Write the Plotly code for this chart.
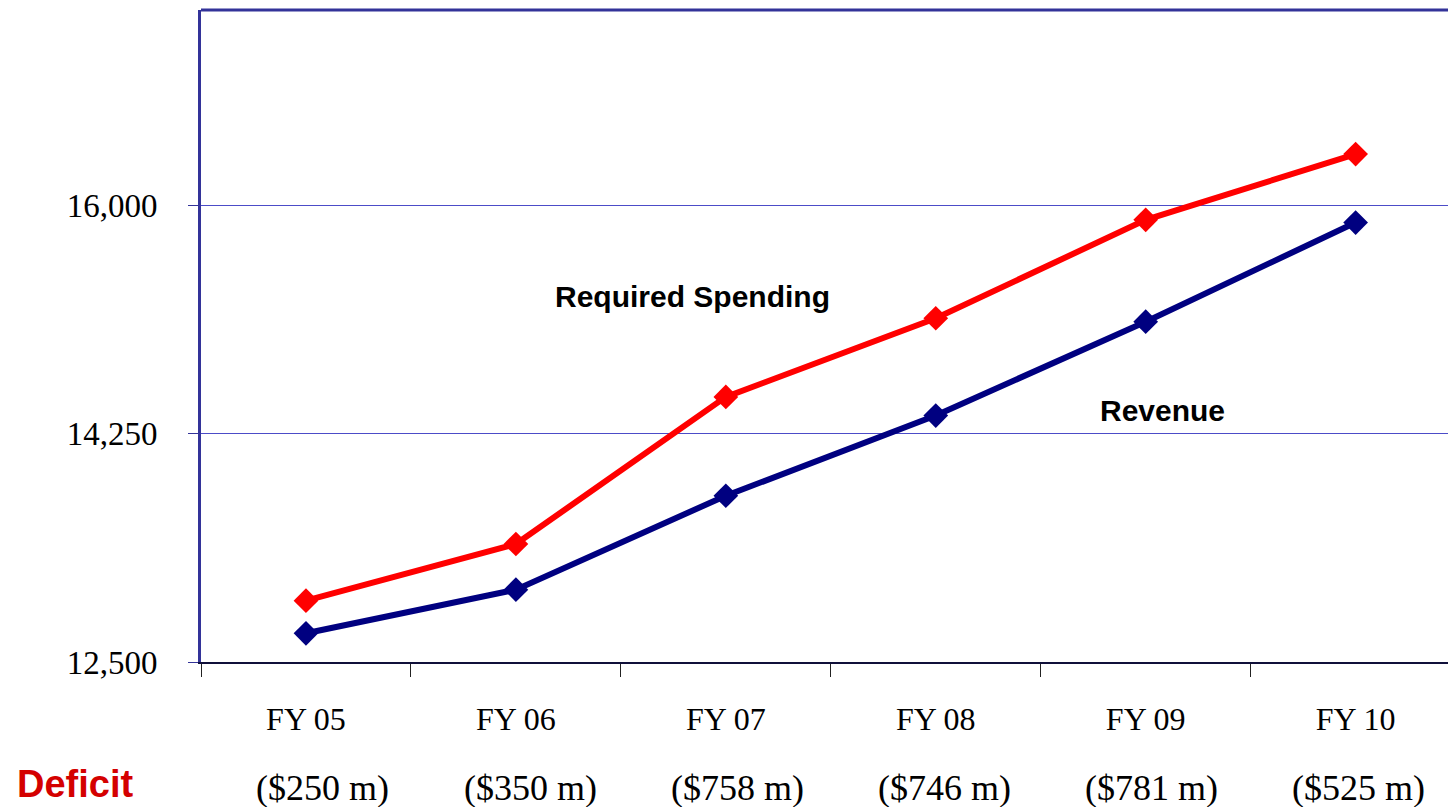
import plotly.graph_objects as go

# Fiscal years, projected totals and the resulting annual gap
years = ["FY 05", "FY 06", "FY 07", "FY 08", "FY 09", "FY 10"]
revenue = [12720, 13055, 13775, 14390, 15110, 15870]
required_spending = [12970, 13405, 14533, 15136, 15891, 16395]
deficit_m = [250, 350, 758, 746, 781, 525]

y_ticks = [12500, 14250, 16000]
y_tick_text = ["12,500", "14,250", "16,000"]

NAVY = "#000080"
RED = "#FF0000"
FRAME = "#333399"
GRID = "#4c4cc8"
SERIF = "Liberation Serif, Times New Roman, serif"
SANS = "Liberation Sans, Arial, sans-serif"

fig = go.Figure()

fig.add_trace(go.Scatter(
    x=years, y=revenue, mode="lines+markers", name="Revenue",
    line=dict(color=NAVY, width=6),
    marker=dict(symbol="diamond", size=19, color=NAVY),
))
fig.add_trace(go.Scatter(
    x=years, y=required_spending, mode="lines+markers", name="Required Spending",
    line=dict(color=RED, width=6),
    marker=dict(symbol="diamond", size=19, color=RED),
))

# Series labels placed beside their lines
fig.add_annotation(x=1.84, y=15300, xref="x", yref="y", text="<b>Required Spending</b>",
                   showarrow=False, font=dict(family=SANS, size=30, color="black"))
fig.add_annotation(x=4.08, y=14425, xref="x", yref="y", text="<b>Revenue</b>",
                   showarrow=False, font=dict(family=SANS, size=30, color="black"))

# Deficit row beneath the category labels (slightly narrower spacing than the categories)
ROW_Y = -0.193
fig.add_annotation(x=-0.149, y=-0.187, xref="paper", yref="paper", text="<b>Deficit</b>",
                   xanchor="left", yanchor="middle", showarrow=False,
                   font=dict(family=SANS, size=38, color="#D40000"))
for i, d in enumerate(deficit_m):
    fig.add_annotation(x=0.081 + 0.987 * i, y=ROW_Y, xref="x", yref="paper", text=f"(${d} m)",
                       xanchor="center", yanchor="middle", showarrow=False,
                       font=dict(family=SERIF, size=36, color="black"))

# Top border of the plot frame
fig.add_shape(type="line", xref="paper", yref="paper", x0=0, x1=1, y0=1, y1=1,
              line=dict(color=FRAME, width=3))

fig.update_layout(
    width=1448, height=807,
    margin=dict(l=201, r=0, t=10, b=145),
    paper_bgcolor="white", plot_bgcolor="white",
    showlegend=False,
    xaxis=dict(
        type="category", range=[-0.5, 5.44],
        tickson="boundaries", ticks="outside", ticklen=13, tickwidth=1, tickcolor="#222222",
        showline=True, linecolor="#10103a", linewidth=2,
        showgrid=False, zeroline=False,
        tickfont=dict(family=SERIF, size=32, color="black"),
        ticklabelstandoff=28,
    ),
    yaxis=dict(
        range=[12500, 17500],
        tickvals=y_ticks, ticktext=y_tick_text,
        ticks="outside", ticklen=10, tickwidth=1, tickcolor=FRAME,
        showline=True, linecolor=FRAME, linewidth=3,
        showgrid=True, gridcolor=GRID, gridwidth=1,
        zeroline=False,
        tickfont=dict(family=SERIF, size=33, color="black"),
        ticklabelstandoff=24,
    ),
)

fig.write_html("out.html")
